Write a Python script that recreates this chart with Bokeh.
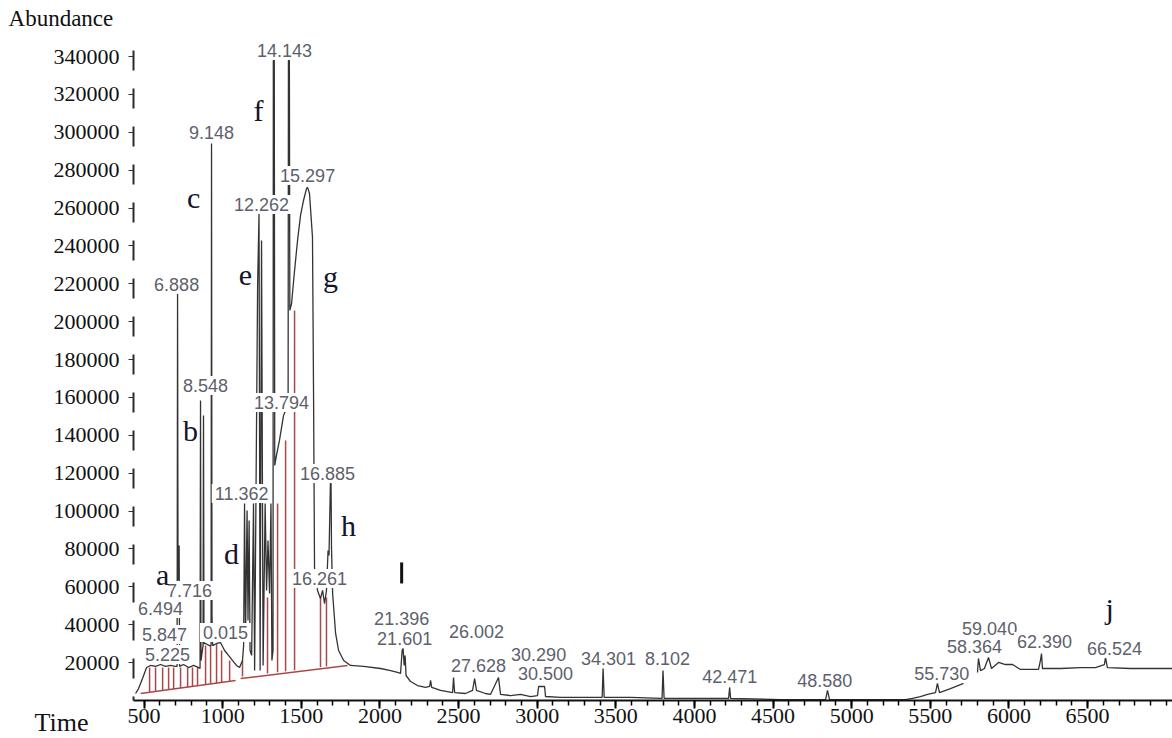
from bokeh.plotting import figure
from bokeh.models import Range1d, Label, FixedTicker, NumeralTickFormatter, LinearAxis
from bokeh.embed import file_html
from bokeh.resources import INLINE

NaN = float("nan")

# chromatogram trace (time, abundance)
trace_time = [446, 465, 490, 516, 541, 573, 605, 637, 668, 700, 710, 713, 716, 723, 726,
              751, 783, 815, 847, 856, 859, 862, 875, 878, 881, 891, 916, 926, 929, 932,
              936, 961, 986, 1012, 1037, 1063, 1088, 1107, 1126, 1133, 1139, 1145, 1155,
              1161, 1168, 1174, 1184, 1196, 1203, 1222, 1231, 1238, 1247, 1257, 1270,
              1279, 1288, 1298, 1307, 1313, 1320, 1322, 1328, 1331, 1342, 1361, 1387, 1400,
              1416, 1418, 1424, 1427, 1438, 1457, 1476, 1495, 1514, 1533, 1540, 1552, 1571,
              1578, 1584, 1603, 1622, 1635, 1648, 1660, 1670, 1676, 1685, 1689, 1692, 1699,
              1718, 1737, 1769, 1813, 1896, 2004, 2068, 2112, 2131, 2141, 2147, 2154,
              2160, 2166, 2195, 2239, 2290, 2316, 2322, 2329, 2386, 2462, 2468, 2475,
              2544, 2589, 2602, 2614, 2671, 2703, 2754, 2767, 2831, 2894, 2958, 3002,
              3009, 3047, 3053, 3149, 3276, 3413, 3419, 3426, 3594, 3794, 3800, 3807,
              4039, 4217, 4224, 4230, 4548, 4834, 4846, 4859, 5120, 5342, 5386, 5437,
              5482, 5533, 5545, 5558, 5628, 5711, NaN, 5800, 5806, 5819, 5844, 5870,
              5889, 5934, 5978, 6023, 6073, 6188, 6200, 6207, 6213, 6328, 6455, 6550,
              6607, 6614, 6626, 6773, 6900, 7040]
trace_abund = [3700, 6300, 11600, 17400, 18500, 18000, 19000, 18000, 18500, 18000, 18000,
               215000, 63400, 81800, 18000, 19000, 17400, 18500, 17400, 16900, 158400,
               21100, 29000, 150500, 30100, 30100, 29000, 29000, 294100, 44900, 29000,
               30100, 30600, 26400, 23800, 21100, 18500, 17400, 21100, 29000, 104000,
               31700, 100300, 42200, 95000, 26400, 23800, 104000, 15800, 219000, 257100,
               15800, 242900, 18500, 104000, 58100, 84500, 56500, 104000, 21100, 26400,
               337900, 337900, 124100, 129400, 137300, 150500, 153100, 158400, 337900,
               337900, 206000,
               209600, 227000, 242900, 256100, 264000, 270300, 270900, 267700, 244500,
               158400, 70200, 58100, 53900, 58100, 51200, 58100, 79200, 76600, 114600,
               114600, 80300, 56500, 35400, 26400, 21100, 18500, 18000, 16900, 15800, 14800,
               14300, 26400, 27500, 18500, 23800, 13200, 10000, 7900, 6900, 7400, 10600,
               6900, 5300, 4200, 12100, 4200, 3700, 5300, 11600, 5300, 3700, 3200, 12100,
               3200, 2600, 3200, 2100, 2600, 7400, 7400, 2100, 1600, 1600, 1600, 16900,
               1600, 1600, 1100, 15800, 1100, 1100, 1100, 6900, 1100, 500, 500, 5300,
               500, 500, 500, 1100, 2100, 3200, 4200, 9000, 4200, 6300, 9000, NaN,
               14800, 22200, 15800, 16900, 22700, 16900, 20100, 19000, 19000, 16400,
               16400, 21100, 24800, 16900, 16900, 17400, 17400, 19000, 22700, 17400,
               16900, 16900, 16900]

# integration baseline (red)
base_t0 = [478, 1114]
base_a0 = [3700, 11600]
base_t1 = [1082, 1794]
base_a1 = [10600, 18500]

# integration drop lines (red)
drop_time = [535, 573, 618, 656, 688, 732, 777, 808, 840, 891, 923, 961, 993, 1044,
             1126, 1285, 1349, 1400, 1457, 1622, 1660]
drop_top = [17400, 17400, 17400, 17400, 17400, 17400, 17400, 17400, 17400, 29000, 29000,
            30100, 26400, 21100, 21100, 54400, 104000, 137300, 205900, 54400, 54400]
drop_base = [4350, 4800, 5300, 5700, 6100, 6600, 7100, 7500, 7800, 8400, 8800, 9200,
             9600, 10200, 12700, 14300, 14900, 15400, 16000, 17600, 18000]

# isolated mark near 21.396
mark_time = [2138]
mark_lo = [61800]
mark_hi = [72900]

# retention-time labels
rt_text = ["14.143", "9.148", "12.262", "15.297", "6.888", "8.548", "13.794", "11.362",
           "16.885", "16.261", "7.716", "6.494", "5.847", "0.015", "5.225", "21.396",
           "21.601", "26.002", "27.628", "30.290", "30.500", "34.301", "8.102", "42.471",
           "48.580", "55.730", "59.040", "58.364", "62.390", "66.524"]
rt_time = [1393, 929, 1247, 1540, 707, 891, 1374, 1120, 1667, 1616, 789, 605, 630, 1018,
           649, 2138, 2157, 2614, 2627, 3009, 3053, 3454, 3829, 4224, 4828, 5572, 5877,
           5781, 6226, 6671]
rt_abund = [343200, 299900, 261900, 277200, 219600, 166300, 157300, 109300, 119900, 64400,
            58100, 48600, 34800, 35900, 24300, 43300, 32700, 36400, 18500, 24300, 14300,
            22200, 22200, 12700, 10600, 14300, 38000, 28500, 31200, 27500]

# peak letters
letter_text = ["a", "b", "c", "d", "e", "f", "g", "h", "j"]
letter_time = [618, 796, 815, 1056, 1145, 1228, 1686, 1800, 6640]
letter_abund = [66500, 142600, 265600, 77600, 224400, 311500, 223900, 92400, 48600]

# axis titles
title_text = ["Abundance", "Time"]
title_time = [-362, -197]
title_abund = [360100, -11600]

y_ticks = [20000, 40000, 60000, 80000, 100000, 120000, 140000, 160000, 180000, 200000,
           220000, 240000, 260000, 280000, 300000, 320000, 340000]
x_ticks = [500, 1000, 1500, 2000, 2500, 3000, 3500, 4000, 4500, 5000, 5500, 6000, 6500]
x_minor = list(range(500, 7100, 100))
x_axis_span = (433, 7040)
y_axis_span = (0, 348000)

p = figure(width=1172, height=738, x_range=Range1d(-413, 7040), y_range=Range1d(-20063, 369588),
           output_backend="svg", toolbar_location=None,
           x_axis_location=None, y_axis_location=None,
           min_border_left=0, min_border_right=0, min_border_top=0, min_border_bottom=0)
p.outline_line_color = None
p.grid.visible = False
p.background_fill_color = "white"
p.border_fill_color = "white"

yaxis = LinearAxis(fixed_location=x_axis_span[0], bounds=y_axis_span,
                   ticker=FixedTicker(ticks=y_ticks),
                   formatter=NumeralTickFormatter(format="0"))
yaxis.major_label_text_font = "Liberation Serif"
yaxis.major_label_text_font_size = "22px"
yaxis.major_label_text_color = "#111111"
yaxis.major_tick_out = 5
yaxis.major_tick_in = 0
yaxis.minor_tick_line_color = None
yaxis.major_label_standoff = 9
yaxis.axis_line_width = 2
yaxis.axis_line_color = "#2a2a2a"
yaxis.axis_line_dash = "20 18"
yaxis.axis_line_dash_offset = 16
yaxis.major_tick_line_color = "#333333"
p.add_layout(yaxis, "left")

xaxis = LinearAxis(fixed_location=y_axis_span[0], bounds=x_axis_span,
                   ticker=FixedTicker(ticks=x_ticks, minor_ticks=x_minor))
xaxis.major_label_text_font = "Liberation Serif"
xaxis.major_label_text_font_size = "22px"
xaxis.major_label_text_color = "#111111"
xaxis.major_tick_out = 8
xaxis.major_tick_in = 0
xaxis.minor_tick_out = 5
xaxis.minor_tick_in = 0
xaxis.major_label_standoff = 0
xaxis.axis_line_width = 2
xaxis.axis_line_color = "#111111"
xaxis.major_tick_line_width = 2
xaxis.minor_tick_line_width = 1.5
p.add_layout(xaxis, "below")

# red integration marks
p.segment(x0=base_t0, y0=base_a0, x1=base_t1, y1=base_a1, line_color="#a8484a", line_width=1.5)
p.segment(x0=drop_time, y0=drop_base, x1=drop_time, y1=drop_top, line_color="#a8484a", line_width=1.5)

# chromatogram
p.line(trace_time, trace_abund, line_color="#333333", line_width=1.3)
p.segment(x0=mark_time, y0=mark_lo, x1=mark_time, y1=mark_hi, line_color="#111111", line_width=3)

for t, a, s in zip(rt_time, rt_abund, rt_text):
    p.add_layout(Label(x=t, y=a, text=s, text_font="Liberation Sans", text_font_size="18px",
                       text_color="#5d616c", text_align="center", text_baseline="middle",
                       background_fill_color="white", padding=3))

for t, a, s in zip(letter_time, letter_abund, letter_text):
    p.add_layout(Label(x=t, y=a, text=s, text_font="Liberation Serif", text_font_size="30px",
                       text_color="#14142a", text_align="center", text_baseline="alphabetic"))

for t, a, s, fs in zip(title_time, title_abund, title_text, ["23px", "26px"]):
    p.add_layout(Label(x=t, y=a, text=s, text_font="Liberation Serif", text_font_size=fs,
                       text_color="#111111", text_align="left", text_baseline="middle"))

open("out.html", "w").write(file_html(p, INLINE))
